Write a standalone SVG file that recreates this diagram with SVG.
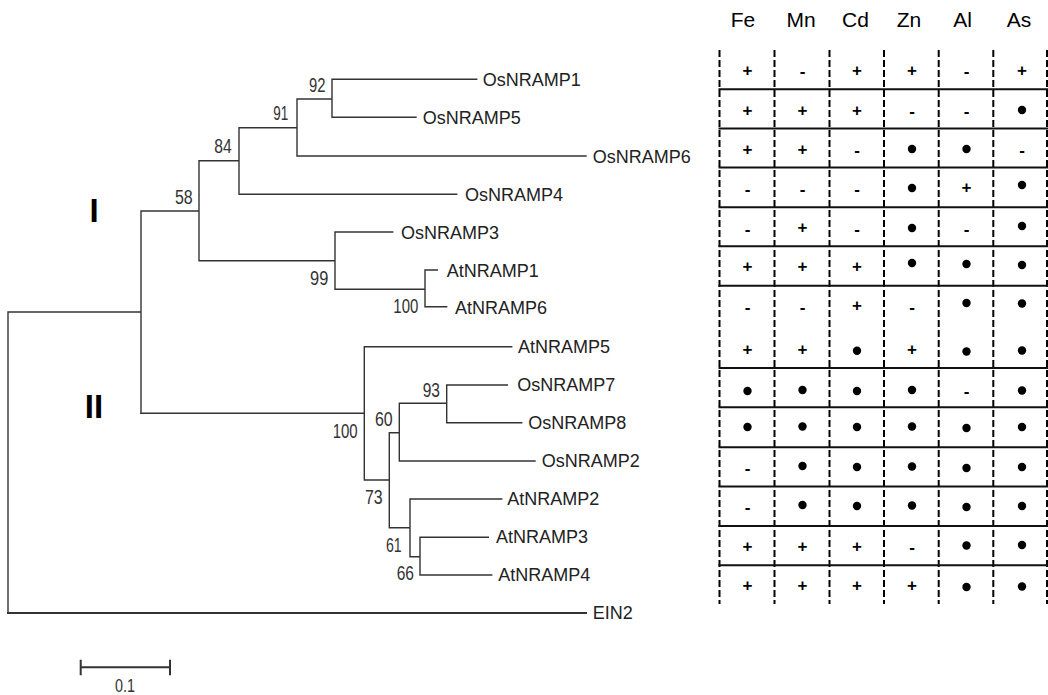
<svg xmlns="http://www.w3.org/2000/svg" width="1048" height="695" viewBox="0 0 1048 695">
<style>
.br{fill:none;stroke:#333;stroke-width:1.4;stroke-linecap:square}
.lbl{font-family:"Liberation Sans",Arial,sans-serif;font-size:18px;fill:#222}
.bs{font-family:"Liberation Sans",Arial,sans-serif;font-size:20px;fill:#333}
.cl{font-family:"Liberation Sans",Arial,sans-serif;font-size:33px;font-weight:bold;fill:#000;text-anchor:middle}
.hd{font-family:"Liberation Sans",Arial,sans-serif;font-size:21px;fill:#000;text-anchor:middle}
.dash{stroke:#000;stroke-width:2;stroke-dasharray:7 3}
.row{stroke:#111;stroke-width:2}
.s{font-family:"Liberation Sans",Arial,sans-serif;font-size:17px;font-weight:bold;fill:#000;text-anchor:middle;dominant-baseline:central}
.d{fill:#000}
</style>
<rect width="1048" height="695" fill="#fff"/>
<g id="connectors">
<path class="br" d="M8,312 V613 M8,312 H141 M141,211 V413.3 M141,211 H199 M199,160.7 V260.7 M199,160.7 H239 M239,127.7 V194.3 M239,194.3 H456.7 M239,127.7 H297 M297,99 V156 M297,156 H586 M297,99 H332 M332,79.3 V117.3 M332,79.3 H476.7 M332,117.3 H416 M199,260.7 H335 M335,232 V289.3 M335,232 H392.7 M335,289.3 H425 M425,270 V306.7 M425,270 H437.3 M425,306.7 H446.7"/>
<path class="br" d="M141,413.3 H364.3 M364.3,346.7 V480 M364.3,346.7 H511.7 M364.3,480 H389.3 M389.3,432.7 V527.7 M389.3,432.7 H399.3 M399.3,403.3 V461 M399.3,403.3 H446.7 M446.7,385 V422.7 M446.7,385 H507.3 M446.7,422.7 H521.7 M399.3,461 H535 M389.3,527.7 H410 M410,499 V556.7 M410,499 H501.7 M410,556.7 H420 M420,537.3 V575 M420,537.3 H488.3 M420,575 H491.7"/>
<path class="br" style="stroke-width:2" d="M8,613 H586"/>
<path class="br" d="M80.7,667.3 H170 M80.7,660.7 V674.3 M170,660.7 V674.3" style="stroke-width:2"/>
</g>
<g id="leaves">
<text class="lbl" x="482.7" y="86">OsNRAMP1</text>
<text class="lbl" x="422.7" y="124">OsNRAMP5</text>
<text class="lbl" x="592.7" y="162.7">OsNRAMP6</text>
<text class="lbl" x="465" y="200.7">OsNRAMP4</text>
<text class="lbl" x="401" y="239">OsNRAMP3</text>
<text class="lbl" x="446.7" y="276.7">AtNRAMP1</text>
<text class="lbl" x="455" y="313.5">AtNRAMP6</text>
<text class="lbl" x="518" y="352.7">AtNRAMP5</text>
<text class="lbl" x="517.3" y="391">OsNRAMP7</text>
<text class="lbl" x="528.3" y="429">OsNRAMP8</text>
<text class="lbl" x="541.7" y="466.7">OsNRAMP2</text>
<text class="lbl" x="507.3" y="505">AtNRAMP2</text>
<text class="lbl" x="496" y="543.3">AtNRAMP3</text>
<text class="lbl" x="498.3" y="580.7">AtNRAMP4</text>
<text class="lbl" x="592.7" y="619.3">EIN2</text>
</g>
<g id="bootstrap">
<text class="bs" x="309" y="91.7" textLength="16.5" lengthAdjust="spacingAndGlyphs">92</text>
<text class="bs" x="273.3" y="120" textLength="15" lengthAdjust="spacingAndGlyphs">91</text>
<text class="bs" x="214.3" y="153.3" textLength="17.4" lengthAdjust="spacingAndGlyphs">84</text>
<text class="bs" x="175" y="204" textLength="17.7" lengthAdjust="spacingAndGlyphs">58</text>
<text class="bs" x="310" y="285" textLength="18.3" lengthAdjust="spacingAndGlyphs">99</text>
<text class="bs" x="393.3" y="313.3" textLength="25" lengthAdjust="spacingAndGlyphs">100</text>
<text class="bs" x="332.7" y="438.3" textLength="25" lengthAdjust="spacingAndGlyphs">100</text>
<text class="bs" x="375" y="426" textLength="17.7" lengthAdjust="spacingAndGlyphs">60</text>
<text class="bs" x="422.7" y="396.7" textLength="17.3" lengthAdjust="spacingAndGlyphs">93</text>
<text class="bs" x="365" y="504" textLength="17.7" lengthAdjust="spacingAndGlyphs">73</text>
<text class="bs" x="386" y="551.7" textLength="15.7" lengthAdjust="spacingAndGlyphs">61</text>
<text class="bs" x="396.7" y="580" textLength="17.3" lengthAdjust="spacingAndGlyphs">66</text>
<text class="bs" x="125" y="692" text-anchor="middle" textLength="20" lengthAdjust="spacingAndGlyphs" style="font-size:19px">0.1</text>
</g>
<g id="clades">
<text class="cl" x="94" y="221.7">I</text>
<text class="cl" x="94" y="418.3">II</text>
</g>
<g id="table">
<g id="header">
<text class="hd" x="743" y="27">Fe</text>
<text class="hd" x="801" y="27">Mn</text>
<text class="hd" x="855.5" y="27">Cd</text>
<text class="hd" x="909" y="27">Zn</text>
<text class="hd" x="962.5" y="27">Al</text>
<text class="hd" x="1019" y="27">As</text>
</g>
<g id="grid">
<path class="dash" d="M719.5,50 V604 M774.5,50 V604 M829.5,50 V604 M884,50 V604 M938.7,50 V604 M993.3,50 V604 M1047,50 V604"/>
<path class="row" d="M718.5,89.3 H1048 M718.5,128.6 H1048 M718.5,167.5 H1048 M718.5,207.3 H1048 M718.5,246.3 H1048 M718.5,285.7 H1048 M718.5,368 H1048 M718.5,407.3 H1048 M718.5,447.3 H1048 M718.5,486.5 H1048 M718.5,526 H1048 M718.5,565.3 H1048"/>
</g>
<g id="cells">
<!-- row 1 OsNRAMP1 -->
<text class="s" x="747.5" y="70">+</text><text class="s" x="802.5" y="71">-</text><text class="s" x="857" y="70">+</text><text class="s" x="912" y="70">+</text><text class="s" x="966.5" y="71">-</text><text class="s" x="1022" y="70">+</text>
<!-- row 2 -->
<text class="s" x="747.5" y="110">+</text><text class="s" x="802.5" y="110">+</text><text class="s" x="857" y="110">+</text><text class="s" x="912" y="111">-</text><text class="s" x="966.5" y="111">-</text><circle class="d" cx="1022" cy="110" r="4.2"/>
<!-- row 3 -->
<text class="s" x="747.5" y="149">+</text><text class="s" x="802.5" y="149">+</text><text class="s" x="857" y="150">-</text><circle class="d" cx="912" cy="149" r="4.2"/><circle class="d" cx="966.5" cy="149" r="4.2"/><text class="s" x="1022" y="150">-</text>
<!-- row 4 -->
<text class="s" x="747.5" y="189">-</text><text class="s" x="802.5" y="189">-</text><text class="s" x="857" y="189">-</text><circle class="d" cx="912" cy="188" r="4.2"/><text class="s" x="966.5" y="187">+</text><circle class="d" cx="1022" cy="185" r="4.2"/>
<!-- row 5 -->
<text class="s" x="747.5" y="229">-</text><text class="s" x="802.5" y="227">+</text><text class="s" x="857" y="229">-</text><circle class="d" cx="912" cy="228" r="4.2"/><text class="s" x="966.5" y="229">-</text><circle class="d" cx="1022" cy="226" r="4.2"/>
<!-- row 6 -->
<text class="s" x="747.5" y="266.5">+</text><text class="s" x="802.5" y="266.5">+</text><text class="s" x="857" y="266.5">+</text><circle class="d" cx="912" cy="263" r="4.2"/><circle class="d" cx="966.5" cy="264" r="4.2"/><circle class="d" cx="1022" cy="265" r="4.2"/>
<!-- row 7 -->
<text class="s" x="747.5" y="307">-</text><text class="s" x="802.5" y="307">-</text><text class="s" x="857" y="305.5">+</text><text class="s" x="912" y="307">-</text><circle class="d" cx="966.5" cy="303" r="4.2"/><circle class="d" cx="1022" cy="303.5" r="4.2"/>
<!-- row 8 -->
<text class="s" x="747.5" y="349.3">+</text><text class="s" x="802.5" y="349.3">+</text><circle class="d" cx="857" cy="350.7" r="4.2"/><text class="s" x="912" y="349.3">+</text><circle class="d" cx="966.5" cy="351.5" r="4.2"/><circle class="d" cx="1022" cy="350.5" r="4.2"/>
<!-- row 9 -->
<circle class="d" cx="747.5" cy="391" r="4.2"/><circle class="d" cx="802.5" cy="390" r="4.2"/><circle class="d" cx="857" cy="391" r="4.2"/><circle class="d" cx="912" cy="390" r="4.2"/><text class="s" x="966.5" y="391">-</text><circle class="d" cx="1022" cy="390.5" r="4.2"/>
<!-- row 10 -->
<circle class="d" cx="747.5" cy="427" r="4.2"/><circle class="d" cx="802.5" cy="426.5" r="4.2"/><circle class="d" cx="857" cy="427" r="4.2"/><circle class="d" cx="912" cy="426.5" r="4.2"/><circle class="d" cx="966.5" cy="428" r="4.2"/><circle class="d" cx="1022" cy="427" r="4.2"/>
<!-- row 11 -->
<text class="s" x="747.5" y="468.5">-</text><circle class="d" cx="802.5" cy="466" r="4.2"/><circle class="d" cx="857" cy="467" r="4.2"/><circle class="d" cx="912" cy="466.5" r="4.2"/><circle class="d" cx="966.5" cy="468" r="4.2"/><circle class="d" cx="1022" cy="467" r="4.2"/>
<!-- row 12 -->
<text class="s" x="747.5" y="507.5">-</text><circle class="d" cx="802.5" cy="505" r="4.2"/><circle class="d" cx="857" cy="506" r="4.2"/><circle class="d" cx="912" cy="505.5" r="4.2"/><circle class="d" cx="966.5" cy="507" r="4.2"/><circle class="d" cx="1022" cy="506" r="4.2"/>
<!-- row 13 -->
<text class="s" x="747.5" y="546">+</text><text class="s" x="802.5" y="546">+</text><text class="s" x="857" y="546">+</text><text class="s" x="912" y="547">-</text><circle class="d" cx="966.5" cy="545.5" r="4.2"/><circle class="d" cx="1022" cy="545" r="4.2"/>
<!-- row 14 -->
<text class="s" x="747.5" y="585">+</text><text class="s" x="802.5" y="585">+</text><text class="s" x="857" y="585">+</text><text class="s" x="912" y="585">+</text><circle class="d" cx="966.5" cy="587" r="4.2"/><circle class="d" cx="1022" cy="586.5" r="4.2"/>
</g>
</g>
</svg>
